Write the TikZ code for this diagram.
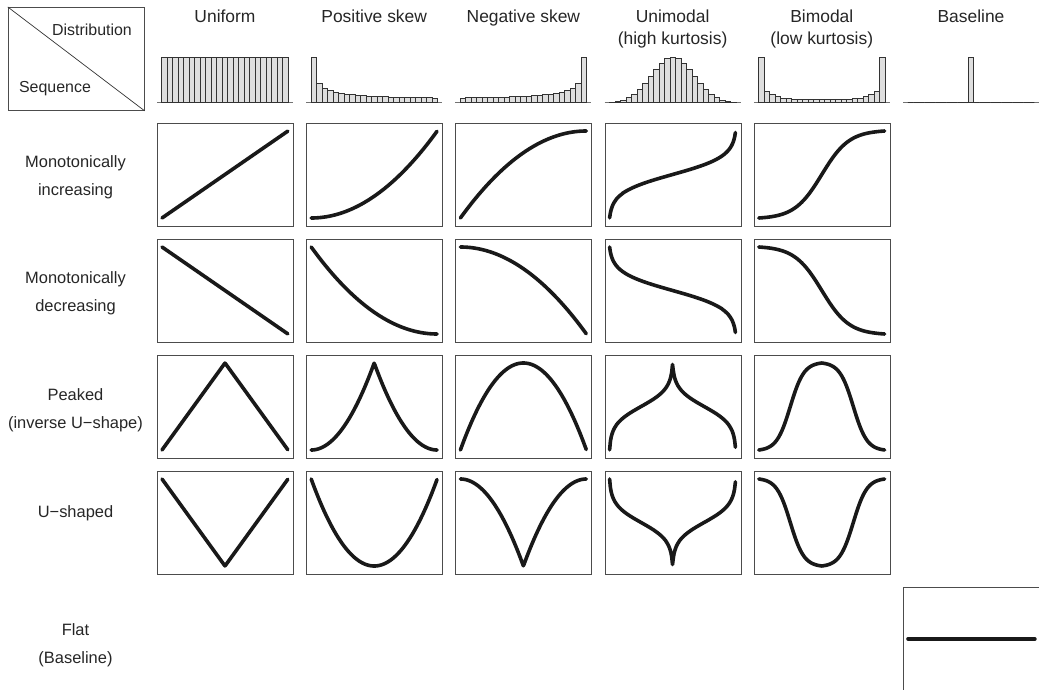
\documentclass[tikz,border=0pt]{standalone}
\usepackage{fontspec}
\setmainfont{Liberation Sans}

\begin{document}
\begin{tikzpicture}[x=1bp, y=-1bp,
  panel/.style={draw=black!70, line width=0.9bp, minimum width=136bp, minimum height=103bp, inner sep=0pt},
  curve/.style={line width=3.6bp, line cap=round, line join=round, draw=black!90},
  bar/.style={draw=black!80, fill=black!13, line width=0.7bp},
  axisline/.style={draw=black!55, line width=1.4bp},
  coltitle/.style={anchor=north, align=center, inner sep=0pt, text=black!85, font=\fontsize{17.5}{22}\selectfont},
  rowlabel/.style={anchor=north, align=center, inner sep=0pt, text=black!85, font=\fontsize{16.5}{28}\selectfont},
  declare function={
    seqI(\t)=\t;
    seqD(\t)=1-\t;
    seqP(\t)=1-abs(2*\t-1);
    seqV(\t)=abs(2*\t-1);
    distU(\q)=\q;
    distP(\q)=\q*\q;
    distN(\q)=1-(1-\q)*(1-\q);
    distH(\q)=0.5+ln((1+(2*\q-1)*0.98367)/(1-(2*\q-1)*0.98367))/9.6;
    distL(\q)=0.5+0.5*tanh(4.6*(\q-0.5))/tanh(2.3);
  }
]
\useasboundingbox (0,0) rectangle (1039,690);
\clip (0,0) rectangle (1039,690);

% corner box
\node[panel, anchor=north west] (corner) at (7.8,7) {};
\draw[line width=0.7bp, black!80] (corner.north west) -- (corner.south east);
\node[anchor=base, inner sep=0pt, text=black!85, font=\fontsize{16}{19}\selectfont] (distlab) at (92,36) {Distribution};
\node[anchor=base, inner sep=0pt, text=black!85, font=\fontsize{16}{19}\selectfont] (seqlab) at (55,93) {Sequence};

% column titles
\foreach \ttl [count=\i from 0] in {Uniform,Positive skew,Negative skew,{Unimodal\\(high kurtosis)},{Bimodal\\(low kurtosis)},Baseline}
  \node[coltitle] (t\i) at ({157+149.2*\i+68},10) {\ttl};

% histograms
\foreach \hl [count=\i from 0] in {%
  {45.4,45.4,45.4,45.4,45.4,45.4,45.4,45.4,45.4,45.4,45.4,45.4,45.4,45.4,45.4,45.4,45.4,45.4,45.4,45.4,45.4,45.4,45.4},%
  {45.4,19,14,12,10.3,9.3,8.7,8,7.3,7,6.7,6.3,6,6,5.7,5.7,5.3,5.3,5.3,5,5,5,4.7},%
  {4.7,5,5,5,5.3,5.3,5.3,5.7,5.7,6,6,6.3,6.7,7,7.3,8,8.7,9.3,10.3,12,14,19,45.4},%
  {0.7,1.4,2.8,5.0,8.4,13.1,19.2,26.1,33.3,39.5,43.9,45.4,43.9,39.5,33.3,26.1,19.2,13.1,8.4,5.0,2.8,1.4,0.7},%
  {45.4,11.7,8.3,6,4.7,4,3.5,3.2,3,3,3,3,3,3,3,3.2,3.5,4,4.7,6,8.3,11.7,45.4},%
  {0,0,0,0,0,0,0,0,0,0,0,45.4,0,0,0,0,0,0,0,0,0,0,0}%
}{
  \pgfmathsetmacro\px{157+149.2*\i}
  \draw[axisline] (\px,102.7) -- ++(136,0);
  \foreach \h [count=\k from 0] in \hl
    \draw[bar] ({\px+4.75+5.5*\k},102.7) rectangle ++(5.5,-\h);
}

% row labels
\node[rowlabel] (r0) at (75.5,155.5) {Monotonically\\increasing};
\node[rowlabel] (r1) at (75.5,271.5) {Monotonically\\decreasing};
\node[rowlabel] (r2) at (75.5,388) {Peaked\\(inverse U−shape)};
\node[rowlabel] (r3) at (75.5,505) {U−shaped};
\node[rowlabel] (r4) at (75.5,623) {Flat\\(Baseline)};

% curve panels
\foreach \d [count=\i from 0] in {U,P,N,H,L}{
  \foreach \s [count=\j from 0] in {I,D,P,V}{
    \pgfmathsetmacro\px{157+149.2*\i}
    \pgfmathsetmacro\py{123+116*\j}
    \node[panel, anchor=north west] (p\i-\j) at (\px,\py) {};
    \begin{scope}[shift={(\px+5,\py+95)}, x=126bp, y=87bp]
      \draw[curve] plot[domain=0:1, samples=161] (\x, {dist\d(seq\s(\x))});
    \end{scope}
  }
}

% flat baseline panel
\node[panel, anchor=north west] (p5-4) at (903,587) {};
\draw[curve] ([xshift=5bp]p5-4.west) -- ([xshift=-5bp]p5-4.east);

\end{tikzpicture}
\end{document}
